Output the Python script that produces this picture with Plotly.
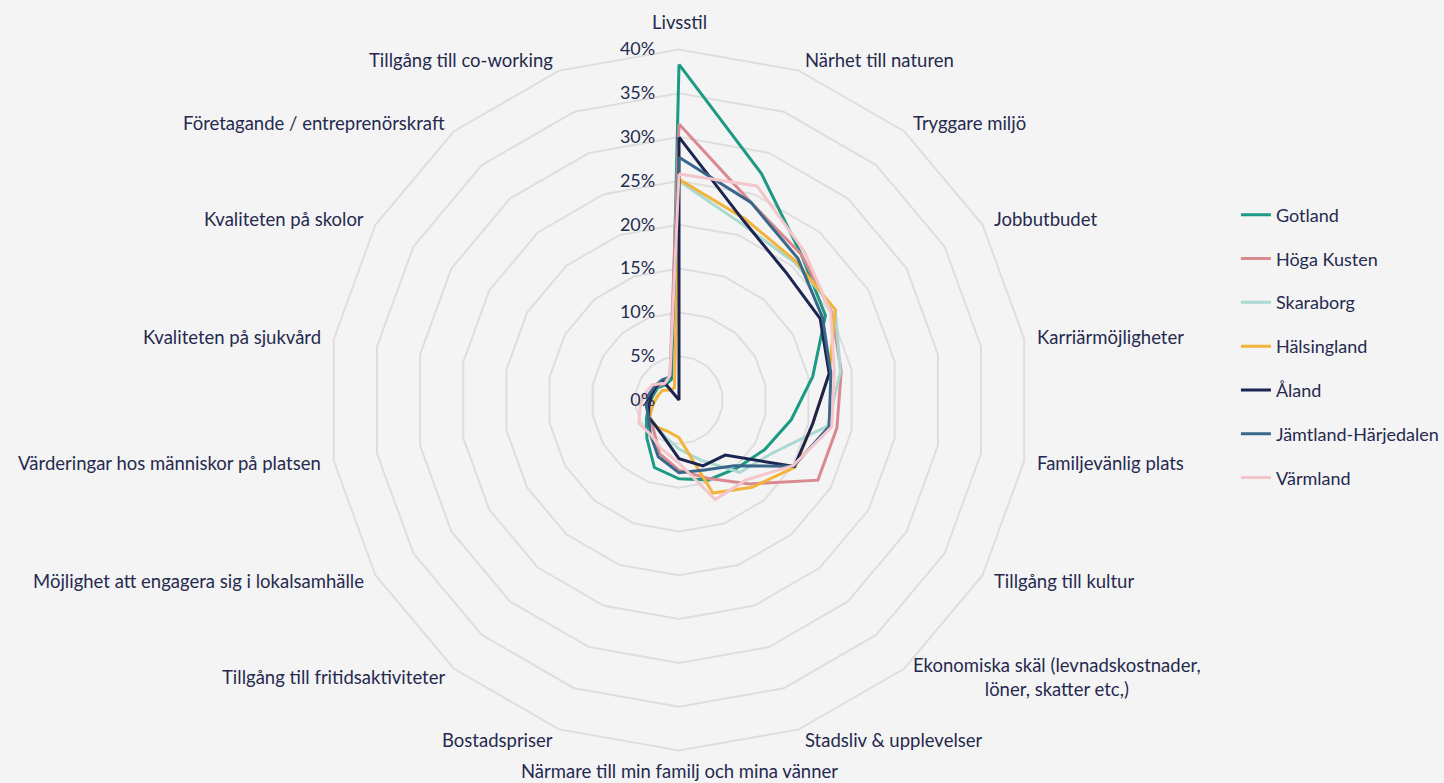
import math
import plotly.graph_objects as go

categories = [
    "Livsstil", "Närhet till naturen", "Tryggare miljö", "Jobbutbudet",
    "Karriärmöjligheter", "Familjevänlig plats", "Tillgång till kultur",
    "Ekonomiska skäl (levnadskostnader,<br>löner, skatter etc,)",
    "Stadsliv & upplevelser", "Närmare till min familj och mina vänner",
    "Bostadspriser", "Tillgång till fritidsaktiviteter",
    "Möjlighet att engagera sig i lokalsamhälle",
    "Värderingar hos människor på platsen", "Kvaliteten på sjukvård",
    "Kvaliteten på skolor", "Företagande / entreprenörskraft",
    "Tillgång till co-working",
]

gotland = [38.3, 27.5, 21.7, 19.3, 15.5, 13.0, 11.3, 10.2, 9.7, 9.0, 8.2, 5.7, 4.3, 3.5, 3.0, 2.8, 2.3, 2.5]
hoga_kusten = [31.5, 24.0, 21.7, 20.1, 18.8, 18.3, 18.3, 12.5, 9.5, 8.0, 6.5, 4.5, 3.8, 3.5, 3.2, 3.0, 2.5, 3.0]
skaraborg = [25.0, 21.3, 20.5, 20.6, 18.7, 17.2, 12.2, 10.8, 7.3, 5.6, 4.5, 4.0, 3.8, 3.5, 3.2, 3.0, 2.8, 3.0]
halsingland = [25.2, 22.0, 20.7, 20.6, 17.4, 15.5, 15.3, 13.0, 11.3, 4.3, 3.8, 4.0, 3.9, 3.0, 2.5, 2.2, 1.5, 1.5]
aland = [30.0, 21.7, 19.0, 18.6, 17.4, 15.5, 15.2, 8.2, 8.0, 6.7, 4.7, 4.0, 4.0, 3.5, 3.2, 3.0, 2.8, 0.0]
jamtland = [27.7, 24.0, 21.1, 18.9, 17.6, 17.4, 15.1, 9.8, 8.5, 8.3, 6.9, 5.1, 4.0, 3.8, 3.5, 3.2, 3.0, 2.8]
varmland = [25.8, 26.0, 22.2, 20.0, 18.0, 17.7, 15.0, 11.9, 12.1, 7.2, 5.9, 5.1, 5.3, 4.5, 4.0, 3.5, 2.5, 3.0]

series_names = ["Gotland", "Höga Kusten", "Skaraborg", "Hälsingland", "Åland",
                "Jämtland-Härjedalen", "Värmland"]
series_values = [gotland, hoga_kusten, skaraborg, halsingland, aland, jamtland, varmland]
series_colors = ["#1c9a83", "#d98a90", "#a9d9d1", "#f2b43a", "#1c2451", "#3a6789", "#f4c5cb"]

radial_ticks = [0, 5, 10, 15, 20, 25, 30, 35, 40]
r_max = 40

FONT = "Lato, 'Open Sans', sans-serif"
TXT = "#262a4f"
GRID = "#dedede"
BG = "#f4f4f4"

fig = go.Figure()
for name, vals, col in zip(series_names, series_values, series_colors):
    fig.add_trace(go.Scatterpolar(
        r=vals + vals[:1],
        theta=categories + categories[:1],
        mode="lines",
        name=name,
        legendgroup=name,
        line=dict(color=col, width=3),
    ))

W, H = 1444, 783
cx, cy, R = 679, 400, 350.5

# Category labels placed just outside the outer ring, like the original chart
n = len(categories)
pad = 11
annotations = []
for k, lab in enumerate(categories):
    a = math.radians(90 - 360 * k / n)
    ca, sa = math.cos(a), math.sin(a)
    px = cx + (R + pad) * ca
    py = cy - (R + pad) * sa
    if abs(ca) < 0.1:
        xanchor = "center"
        if sa > 0:
            yanchor, py = "bottom", py - 3
        else:
            yanchor, py = "bottom", H + 1
    else:
        xanchor = "left" if ca > 0 else "right"
        yanchor = "middle"
    annotations.append(dict(
        text=lab, x=px / W, y=1 - py / H, xref="paper", yref="paper",
        xanchor=xanchor, yanchor=yanchor, showarrow=False, align="center",
        font=dict(size=18.5, color=TXT, family=FONT),
    ))

fig.update_layout(
    width=W, height=H,
    paper_bgcolor=BG,
    plot_bgcolor=BG,
    margin=dict(l=0, r=0, t=0, b=0),
    font=dict(family=FONT, size=18, color=TXT),
    annotations=annotations,
    polar=dict(
        bgcolor=BG,
        gridshape="linear",
        domain=dict(x=[(cx - R) / W, (cx + R) / W],
                    y=[(H - cy - R) / H, (H - cy + R) / H]),
        radialaxis=dict(
            range=[0, r_max],
            tickvals=radial_ticks,
            ticktext=[f"{v}%" for v in radial_ticks],
            angle=90,
            tickangle=90,
            side="counterclockwise",
            showline=False,
            ticks="outside",
            ticklen=17,
            tickcolor="rgba(0,0,0,0)",
            gridcolor=GRID,
            gridwidth=2,
            tickfont=dict(size=18, color=TXT, family=FONT),
        ),
        angularaxis=dict(
            rotation=90,
            direction="clockwise",
            showgrid=False,
            showline=True,
            linecolor=GRID,
            linewidth=2,
            ticks="",
            showticklabels=False,
        ),
    ),
    legend=dict(
        x=0.8559, y=0.749, xanchor="left", yanchor="top",
        bgcolor="rgba(0,0,0,0)",
        font=dict(size=18, color=TXT, family=FONT),
        tracegroupgap=17.4,
        itemwidth=30,
    ),
)

fig.write_html(
    "out.html",
    config={"displayModeBar": False},
    post_script="document.body.style.margin='0';document.body.style.background='#f4f4f4';",
)
